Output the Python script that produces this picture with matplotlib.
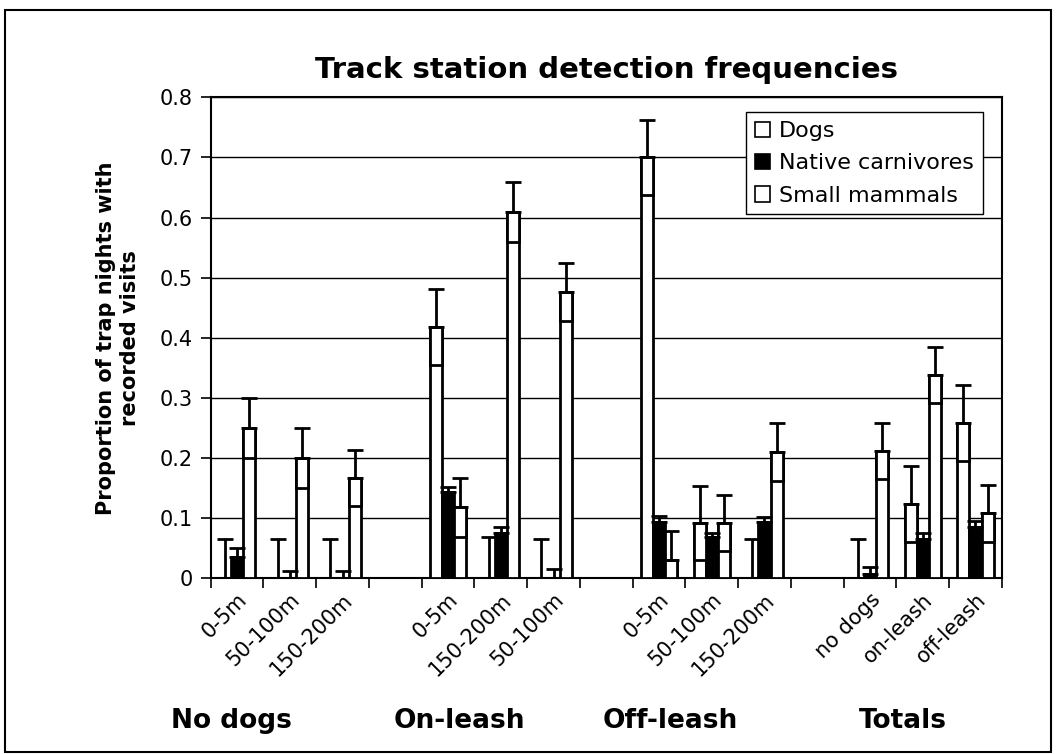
import numpy as np
import matplotlib
matplotlib.use("Agg")
import matplotlib.pyplot as plt
from matplotlib.patches import Rectangle, Patch
from matplotlib.transforms import blended_transform_factory

# slot labels (empty string = spacer slot between groups)
slot_labels = ['0-5m', '50-100m', '150-200m', '',
               '0-5m', '150-200m', '50-100m', '',
               '0-5m', '50-100m', '150-200m', '',
               'no dogs', 'on-leash', 'off-leash']
group_names = ['No dogs', 'On-leash', 'Off-leash', 'Totals']
series_names = ['Dogs', 'Native carnivores', 'Small mammals']

# values for the 12 non-empty slots
dogs = [0, 0, 0, 0.418, 0, 0, 0.70, 0.092, 0, 0, 0.123, 0.258]
dogs_err = [0.065, 0.065, 0.065, 0.063, 0.068, 0.066, 0.062, 0.062, 0.065, 0.065, 0.063, 0.063]
native = [0.036, 0, 0, 0.143, 0.075, 0, 0.094, 0.068, 0.093, 0.008, 0.065, 0.085]
native_err = [0.014, 0.013, 0.013, 0.009, 0.011, 0.015, 0.009, 0.008, 0.009, 0.01, 0.01, 0.01]
small = [0.25, 0.2, 0.167, 0.118, 0.609, 0.476, 0.03, 0.092, 0.21, 0.212, 0.338, 0.108]
small_err = [0.05, 0.05, 0.047, 0.049, 0.05, 0.048, 0.048, 0.047, 0.048, 0.047, 0.047, 0.048]

plt.rcParams['font.family'] = 'DejaVu Sans'

fig = plt.figure(figsize=(10.59, 7.54), dpi=100)
ax = fig.add_axes([0.199, 0.233, 0.747, 0.638])

# slot centres of the filled slots
slots = np.array([i for i, s in enumerate(slot_labels) if s]) + 0.5
w = 0.23

series = [(dogs, dogs_err, 'white', -w), (native, native_err, 'black', 0), (small, small_err, 'white', w)]
for vals, errs, col, off in series:
    vals = np.array(vals)
    errs = np.array(errs)
    x = slots + off
    ax.bar(x, vals, width=w, color=col, edgecolor='black', linewidth=2, zorder=3)
    low = np.minimum(errs, vals)
    m = vals > 0
    if col == 'white':
        # lower half of the error range drawn as a box inside the bar
        ax.bar(x[m], low[m], bottom=vals[m] - low[m], width=w, color='white',
               edgecolor='black', linewidth=2, zorder=4)
    ax.errorbar(x, vals, yerr=[np.zeros_like(errs), errs], fmt='none', ecolor='black',
                elinewidth=2, capsize=6, capthick=2, zorder=5)

ax.set_xlim(0, len(slot_labels))
ax.set_ylim(0, 0.8)
ax.set_yticks(np.arange(0, 0.81, 0.1))
ax.set_yticklabels(['0', '0.1', '0.2', '0.3', '0.4', '0.5', '0.6', '0.7', '0.8'])
ax.yaxis.grid(True, color='black', linewidth=1)
ax.set_axisbelow(True)

ax.set_xticks(np.arange(0, len(slot_labels) + 1))
ax.set_xticklabels([])
ax.set_xticks(np.arange(len(slot_labels)) + 0.5, minor=True)
ax.set_xticklabels(slot_labels, minor=True, rotation=45, ha='right', va='top',
                   rotation_mode='anchor', fontsize=15)
ax.tick_params(axis='x', which='minor', length=0, pad=8)
ax.tick_params(axis='x', which='major', length=7, width=1.2, direction='out')
ax.tick_params(axis='y', length=7, width=1.2, direction='out', labelsize=15, pad=6)
for s in ax.spines.values():
    s.set_linewidth(1.5)

ax.set_ylabel('Proportion of trap nights with\nrecorded visits', fontsize=15,
              fontweight='bold', labelpad=14, linespacing=1.25)
ax.set_title('Track station detection frequencies', fontsize=21, fontweight='bold', pad=14)

trans = blended_transform_factory(ax.transData, fig.transFigure)
group_x = [0.4, 4.72, 8.71, 13.13]
for gx, name in zip(group_x, group_names):
    ax.text(gx, 0.044, name, transform=trans, ha='center', va='center',
            fontsize=19, fontweight='bold')

handles = [Patch(facecolor='white', edgecolor='black', linewidth=1.2),
           Patch(facecolor='black', edgecolor='black', linewidth=1.2),
           Patch(facecolor='white', edgecolor='black', linewidth=1.2)]
leg = ax.legend(handles, series_names, loc='upper right', bbox_to_anchor=(0.976, 0.969),
                borderaxespad=0, fontsize=16, handlelength=0.7, handleheight=0.7,
                handletextpad=0.4, labelspacing=0.55, fancybox=False, framealpha=1,
                edgecolor='black', borderpad=0.4)
leg.get_frame().set_linewidth(1.0)
leg.set_zorder(10)

fig.patches.append(Rectangle((0.005, 0.003), 0.987, 0.984, transform=fig.transFigure,
                             fill=False, edgecolor='black', linewidth=1.5))

fig.savefig('out.png', dpi=100)
